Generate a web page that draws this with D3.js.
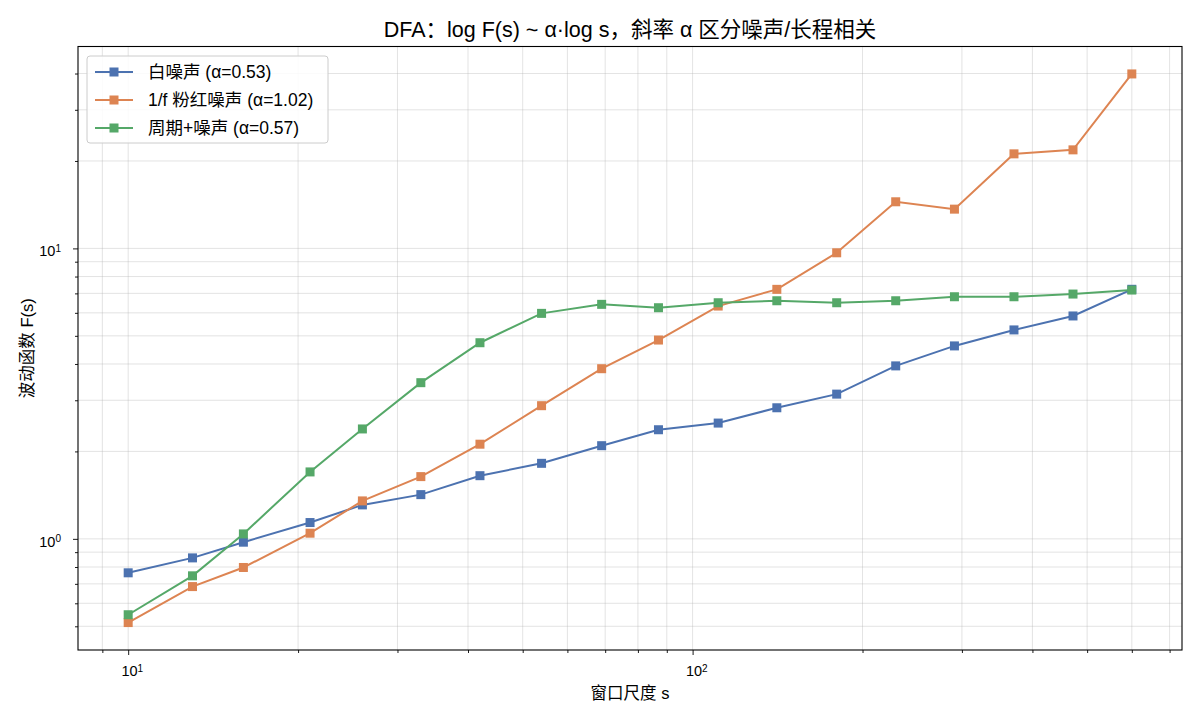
<!DOCTYPE html>
<html>
<head>
<meta charset="utf-8">
<script src="https://cdn.jsdelivr.net/npm/d3@7"></script>
<style>
  html, body { margin: 0; padding: 0; background: #fff; }
  svg { display: block; }
  text { font-family: "Liberation Sans", "Noto Sans CJK SC", sans-serif; fill: #000; }
</style>
</head>
<body>
<svg id="chart" width="1200" height="720"></svg>
<script>
// ---- data ----
const scales = [10, 13, 16, 21, 26, 33, 42, 54, 69, 87, 111, 141, 180, 229, 291, 371, 472, 600];
const whiteNoise = [0.764, 0.860, 0.974, 1.138, 1.309, 1.420, 1.650, 1.820, 2.093, 2.375, 2.504, 2.827, 3.150, 3.940, 4.616, 5.240, 5.853, 7.231];
const pinkNoise = [0.515, 0.685, 0.797, 1.046, 1.351, 1.638, 2.118, 2.874, 3.853, 4.836, 6.331, 7.228, 9.658, 14.47, 13.65, 21.16, 21.84, 39.87];
const periodicNoise = [0.548, 0.746, 1.040, 1.700, 2.390, 3.449, 4.734, 5.975, 6.418, 6.248, 6.500, 6.603, 6.500, 6.603, 6.816, 6.816, 6.963, 7.188];
const seriesNames = ["白噪声 (α=0.53)", "1/f 粉红噪声 (α=1.02)", "周期+噪声 (α=0.57)"];
const seriesColors = ["#4C72B0", "#DD8452", "#55A868"];
const xMajorTicks = [10, 100];
const yMajorTicks = [1, 10];
const titleText = "DFA：log F(s) ~ α·log s，斜率 α 区分噪声/长程相关";
const xLabelText = "窗口尺度 s";
const yLabelText = "波动函数 F(s)";

const series = [whiteNoise, pinkNoise, periodicNoise].map((vals, i) => ({
  name: seriesNames[i], color: seriesColors[i],
  points: scales.map((s, j) => ({ s, f: vals[j] }))
}));

// ---- layout ----
const svg = d3.select("#chart");
const m = { left: 78, right: 1182, top: 46.5, bottom: 650 };

function logDomain(vals) {
  const lo = Math.log10(d3.min(vals)), hi = Math.log10(d3.max(vals));
  const pad = (hi - lo) * 0.05;
  return [Math.pow(10, lo - pad), Math.pow(10, hi + pad)];
}
const allF = [].concat(whiteNoise, pinkNoise, periodicNoise);
const x = d3.scaleLog().domain(logDomain(scales)).range([m.left, m.right]);
const y = d3.scaleLog().domain(logDomain(allF)).range([m.bottom, m.top]);

function minorTicks(domain) {
  const out = [];
  const d0 = Math.floor(Math.log10(domain[0])), d1 = Math.ceil(Math.log10(domain[1]));
  for (let d = d0; d <= d1; d++) {
    for (let k = 1; k <= 9; k++) {
      const v = k * Math.pow(10, d);
      if (v >= domain[0] && v <= domain[1]) out.push(v);
    }
  }
  return out;
}
const xAll = minorTicks(x.domain());
const yAll = minorTicks(y.domain());
const xMinor = xAll.filter(v => !xMajorTicks.some(t => Math.abs(t - v) < 1e-9));
const yMinor = yAll.filter(v => !yMajorTicks.some(t => Math.abs(t - v) < 1e-9));

// grid
const grid = svg.append("g");
grid.selectAll(".gx").data(xAll).enter().append("line")
  .attr("x1", d => x(d)).attr("x2", d => x(d))
  .attr("y1", m.top).attr("y2", m.bottom)
  .attr("stroke", "#b0b0b0").attr("stroke-opacity", 0.4).attr("stroke-width", 0.9);
grid.selectAll(".gy").data(yAll).enter().append("line")
  .attr("y1", d => y(d)).attr("y2", d => y(d))
  .attr("x1", m.left).attr("x2", m.right)
  .attr("stroke", "#b0b0b0").attr("stroke-opacity", 0.4).attr("stroke-width", 0.9);

// axes
function powLabel(sel) {
  sel.each(function(d) {
    const t = d3.select(this);
    const e = Math.round(Math.log10(d));
    t.text(null);
    t.append("tspan").text("10");
    t.append("tspan").attr("dy", "-0.45em").style("font-size", "10px").text(String(e));
  });
}

const xAxis = d3.axisBottom(x).tickValues(xMajorTicks).tickFormat("").tickSize(5).tickPadding(11);
const xAxisMinor = d3.axisBottom(x).tickValues(xMinor).tickFormat("").tickSize(3);
const yAxis = d3.axisLeft(y).tickValues(yMajorTicks).tickFormat("").tickSize(5).tickPadding(12);
const yAxisMinor = d3.axisLeft(y).tickValues(yMinor).tickFormat("").tickSize(3);

const gx = svg.append("g").attr("transform", `translate(0,${m.bottom})`).call(xAxis);
const gxm = svg.append("g").attr("transform", `translate(0,${m.bottom})`).call(xAxisMinor);
const gy = svg.append("g").attr("transform", `translate(${m.left},0)`).call(yAxis);
const gym = svg.append("g").attr("transform", `translate(${m.left},0)`).call(yAxisMinor);
[gx, gxm, gy, gym].forEach(g => {
  g.select(".domain").remove();
  g.selectAll("line").attr("stroke", "#000").attr("stroke-width", 0.9);
  g.selectAll("text").style("font-size", "14.5px").attr("fill", "#000");
});
gx.selectAll(".tick text").call(powLabel).attr("dx", "0.25em");
gy.selectAll(".tick text").call(powLabel).attr("dy", "0.5em");

// lines & markers
const lineGen = d3.line().x(d => x(d.s)).y(d => y(d.f));
const plot = svg.append("g");
series.forEach(sr => {
  plot.append("path").datum(sr.points).attr("d", lineGen)
    .attr("fill", "none").attr("stroke", sr.color).attr("stroke-width", 2);
  plot.selectAll(null).data(sr.points).enter().append("rect")
    .attr("x", d => x(d.s) - 4.5).attr("y", d => y(d.f) - 4.5)
    .attr("width", 9).attr("height", 9).attr("fill", sr.color);
});

// frame
svg.append("rect").attr("x", m.left).attr("y", m.top)
  .attr("width", m.right - m.left).attr("height", m.bottom - m.top)
  .attr("fill", "none").attr("stroke", "#000").attr("stroke-width", 1.1);

// legend
const lg = svg.append("g");
lg.append("rect").attr("x", 87).attr("y", 56).attr("width", 241).attr("height", 87)
  .attr("rx", 3).attr("fill", "#fff").attr("fill-opacity", 0.85)
  .attr("stroke", "#cccccc").attr("stroke-width", 1);
series.forEach((sr, i) => {
  const yy = 72 + i * 28;
  lg.append("line").attr("x1", 95).attr("x2", 133).attr("y1", yy).attr("y2", yy)
    .attr("stroke", sr.color).attr("stroke-width", 2);
  lg.append("rect").attr("x", 114 - 4.5).attr("y", yy - 4.5).attr("width", 9).attr("height", 9)
    .attr("fill", sr.color);
  lg.append("text").attr("x", 148).attr("y", yy).attr("dy", "0.35em")
    .style("font-size", "17.5px").text(sr.name);
});

// titles
svg.append("text").attr("x", (m.left + m.right) / 2).attr("y", 37).attr("text-anchor", "middle")
  .style("font-size", "21.5px").text(titleText);
svg.append("text").attr("x", (m.left + m.right) / 2).attr("y", 699).attr("text-anchor", "middle")
  .style("font-size", "16.5px").text(xLabelText);
svg.append("text").attr("transform", `translate(33,${(m.top + m.bottom) / 2}) rotate(-90)`)
  .attr("text-anchor", "middle").style("font-size", "16.5px").text(yLabelText);
</script>
</body>
</html>
